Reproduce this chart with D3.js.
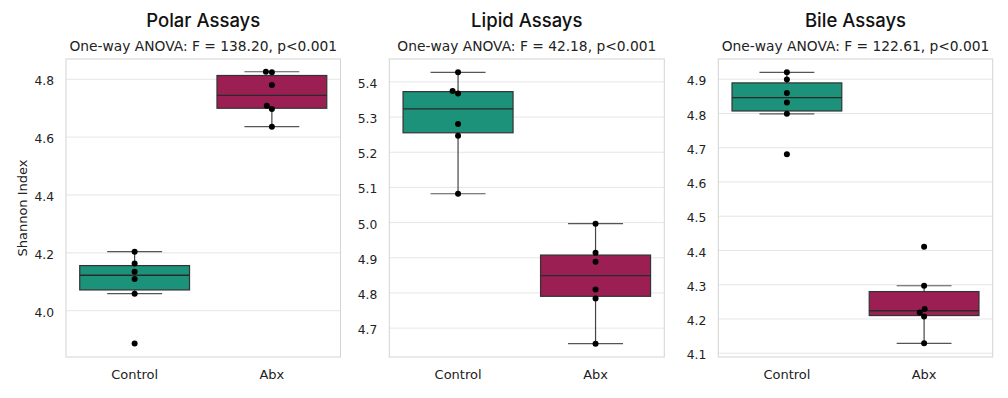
<!DOCTYPE html>
<html>
<head>
<meta charset="utf-8">
<script src="https://cdn.jsdelivr.net/npm/d3@7"></script>
<style>
  html, body { margin: 0; padding: 0; background: #ffffff; }
  svg { display: block; }
</style>
</head>
<body>
<script>
// ---------------- DATA ----------------
const categories = ["Control", "Abx"];
const panelTitles = ["Polar Assays", "Lipid Assays", "Bile Assays"];
const panelSubtitles = [
  "One-way ANOVA: F = 138.20, p<0.001",
  "One-way ANOVA: F = 42.18, p<0.001",
  "One-way ANOVA: F = 122.61, p<0.001"
];
const yAxisTitle = "Shannon Index";

const polarControl = [4.204, 4.163, 4.135, 4.110, 4.059, 3.887];
const polarAbx     = [4.826, 4.824, 4.780, 4.708, 4.697, 4.636];
const lipidControl = [5.427, 5.374, 5.367, 5.280, 5.247, 5.082];
const lipidAbx     = [4.997, 4.914, 4.889, 4.810, 4.784, 4.656];
const bileControl  = [4.920, 4.899, 4.860, 4.832, 4.799, 4.681];
const bileAbx      = [4.411, 4.297, 4.229, 4.219, 4.207, 4.129];

const polarTicks = [4.0, 4.2, 4.4, 4.6, 4.8];
const lipidTicks = [4.7, 4.8, 4.9, 5.0, 5.1, 5.2, 5.3, 5.4];
const bileTicks  = [4.1, 4.2, 4.3, 4.4, 4.5, 4.6, 4.7, 4.8, 4.9];

const polarDomain = [3.84, 4.87];
const lipidDomain = [4.618, 5.465];
const bileDomain  = [4.089, 4.959];

const groupColors = ["#1b9279", "#9c1f54"];

// ---------------- LAYOUT ----------------
const W = 1008, H = 398;
const panels = [
  { left: 66, right: 340.5, series: [polarControl, polarAbx], ticks: polarTicks, domain: polarDomain, fmt: ".1f" },
  { left: 389.3, right: 664.3, series: [lipidControl, lipidAbx], ticks: lipidTicks, domain: lipidDomain, fmt: ".1f" },
  { left: 718.3, right: 992.7, series: [bileControl, bileAbx], ticks: bileTicks, domain: bileDomain, fmt: ".1f" }
];
const plotTop = 59, plotBottom = 357;
const dotR = 3, dotD = 6;

const svg = d3.select("body").append("svg")
  .attr("width", W).attr("height", H);

const FONT = "'DejaVu Sans', sans-serif";

function swarm(values, y) {
  const sorted = values.slice().sort((a, b) => a - b);
  const placed = [];
  sorted.forEach(v => {
    const py = y(v);
    let cands = [0];
    placed.forEach(p => {
      const dy = Math.abs(p.y - py);
      if (dy < dotD) {
        const dx = Math.sqrt(dotD * dotD - dy * dy);
        cands.push(p.x - dx, p.x + dx);
      }
    });
    cands.sort((a, b) => (Math.abs(a) - Math.abs(b)) || (a - b));
    let chosen = 0;
    for (const c of cands) {
      const ok = placed.every(p => Math.hypot(p.x - c, p.y - py) >= dotD - 1e-6);
      if (ok) { chosen = c; break; }
    }
    placed.push({ v: v, x: chosen, y: py });
  });
  return placed;
}

panels.forEach((P, pi) => {
  const g = svg.append("g");
  const x = d3.scaleBand().domain(categories).range([P.left, P.right]).padding(0);
  const y = d3.scaleLinear().domain(P.domain).range([plotBottom, plotTop]);
  const cx = (P.left + P.right) / 2;

  // title & subtitle
  g.append("text").attr("x", cx).attr("y", 26.5)
    .attr("text-anchor", "middle")
    .style("font-family", "Inter, 'Open Sans', sans-serif").style("font-weight", 500)
    .style("font-size", "18.5px").style("fill", "#111")
    .text(panelTitles[pi]);
  g.append("text").attr("x", cx).attr("y", 51)
    .attr("text-anchor", "middle")
    .style("font-family", FONT).style("font-size", "13.8px").style("fill", "#222")
    .text(panelSubtitles[pi]);

  // grid
  g.append("g").selectAll("line").data(P.ticks).join("line")
    .attr("x1", P.left).attr("x2", P.right)
    .attr("y1", d => y(d)).attr("y2", d => y(d))
    .attr("stroke", "#e6e6e6").attr("stroke-width", 1);

  // frame
  g.append("rect").attr("x", P.left).attr("y", plotTop)
    .attr("width", P.right - P.left).attr("height", plotBottom - plotTop)
    .attr("fill", "none").attr("stroke", "#d4d4d4").attr("stroke-width", 1);

  // y axis via d3 axis
  const yAxis = d3.axisLeft(y).tickValues(P.ticks).tickFormat(d3.format(P.fmt)).tickSize(0).tickPadding(12);
  const ya = g.append("g").attr("transform", `translate(${P.left},0)`).call(yAxis);
  ya.select(".domain").remove();
  ya.selectAll("text").style("font-family", FONT).style("font-size", "12.3px").style("fill", "#222")
    .attr("dy", "0.45em");

  // x axis
  const xAxis = d3.axisBottom(x).tickSize(0).tickPadding(13);
  const xa = g.append("g").attr("transform", `translate(0,${plotBottom})`).call(xAxis);
  xa.select(".domain").remove();
  xa.selectAll("text").style("font-family", FONT).style("font-size", "13px").style("fill", "#222");

  // boxes
  const bw = x.bandwidth();
  categories.forEach((cat, ci) => {
    const vals = P.series[ci].slice().sort((a, b) => a - b);
    const q1 = d3.quantileSorted(vals, 0.25);
    const med = d3.quantileSorted(vals, 0.5);
    const q3 = d3.quantileSorted(vals, 0.75);
    const iqr = q3 - q1;
    const lo = d3.min(vals.filter(v => v >= q1 - 1.5 * iqr));
    const hi = d3.max(vals.filter(v => v <= q3 + 1.5 * iqr));
    const c = x(cat) + bw / 2;
    const boxW = bw * 0.8, capW = bw * 0.4;
    const bg = g.append("g");
    // whiskers
    bg.append("line").attr("x1", c).attr("x2", c).attr("y1", y(q3)).attr("y2", y(hi))
      .attr("stroke", "#444").attr("stroke-width", 1.2);
    bg.append("line").attr("x1", c).attr("x2", c).attr("y1", y(q1)).attr("y2", y(lo))
      .attr("stroke", "#444").attr("stroke-width", 1.2);
    bg.append("line").attr("x1", c - capW / 2).attr("x2", c + capW / 2).attr("y1", y(hi)).attr("y2", y(hi))
      .attr("stroke", "#555").attr("stroke-width", 1.2);
    bg.append("line").attr("x1", c - capW / 2).attr("x2", c + capW / 2).attr("y1", y(lo)).attr("y2", y(lo))
      .attr("stroke", "#555").attr("stroke-width", 1.2);
    // box
    bg.append("rect").attr("x", c - boxW / 2).attr("y", y(q3))
      .attr("width", boxW).attr("height", y(q1) - y(q3))
      .attr("fill", groupColors[ci]).attr("stroke", "#333").attr("stroke-width", 1.2);
    bg.append("line").attr("x1", c - boxW / 2).attr("x2", c + boxW / 2).attr("y1", y(med)).attr("y2", y(med))
      .attr("stroke", "#2a2a2a").attr("stroke-width", 1.3);
    // points
    const pts = swarm(P.series[ci], y);
    bg.selectAll("circle").data(pts).join("circle")
      .attr("cx", d => c + d.x).attr("cy", d => d.y).attr("r", dotR)
      .attr("fill", "#000");
  });
});

// y axis title
svg.append("text")
  .attr("transform", `translate(27,${(plotTop + plotBottom) / 2}) rotate(-90)`)
  .attr("text-anchor", "middle")
  .style("font-family", FONT).style("font-size", "13px").style("fill", "#222")
  .text(yAxisTitle);
</script>
</body>
</html>
